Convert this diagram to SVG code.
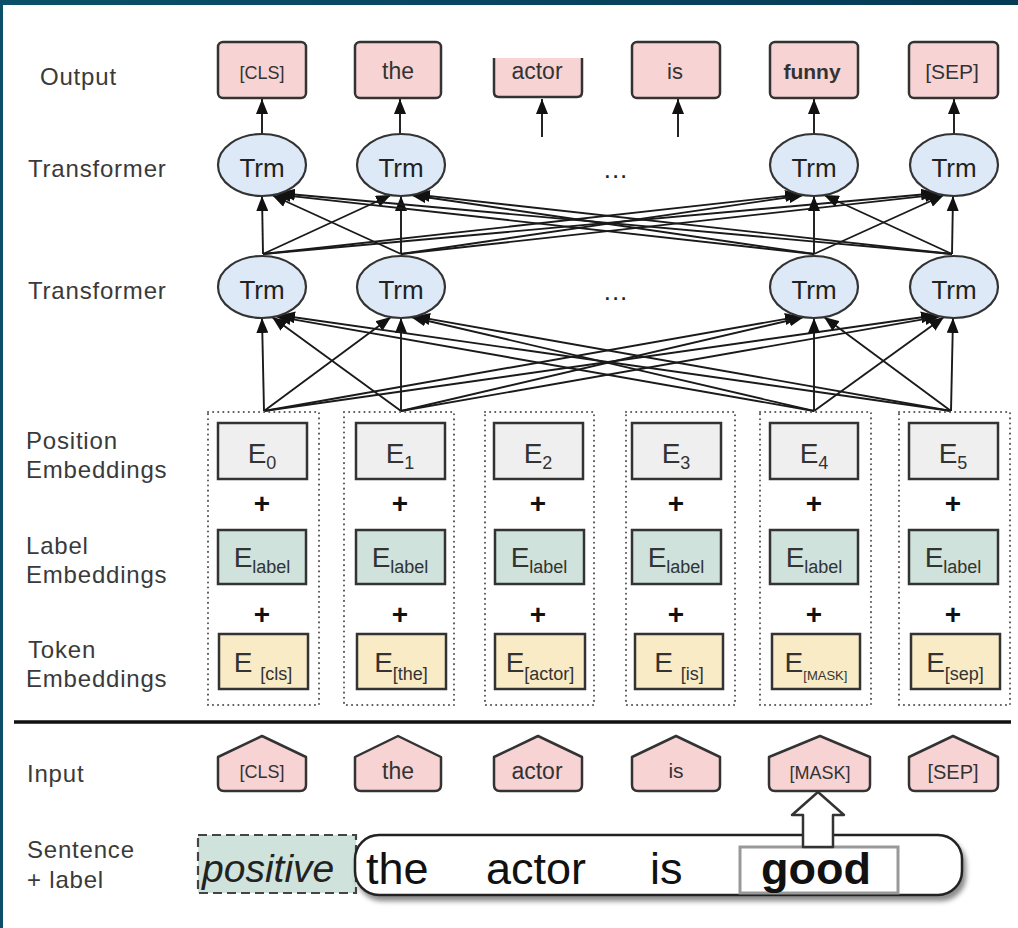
<svg xmlns="http://www.w3.org/2000/svg" width="1018" height="928" viewBox="0 0 1018 928">
<defs>
<linearGradient id="topbar" x1="0" y1="0" x2="1" y2="0">
<stop offset="0" stop-color="#0b5068"/>
<stop offset="1" stop-color="#063a55"/>
</linearGradient>
<marker id="ah" markerUnits="userSpaceOnUse" markerWidth="15" markerHeight="12" refX="15" refY="6" orient="auto">
<path d="M0,0 L15,6 L0,12 z" fill="#111"/>
</marker>
<filter id="shadow" x="-5%" y="-20%" width="110%" height="150%">
<feDropShadow dx="3" dy="5" stdDeviation="2.5" flood-color="#000" flood-opacity="0.45"/>
</filter>
</defs>
<style>
.lbl{font-family:"Liberation Sans",Arial,sans-serif;font-size:24px;letter-spacing:0.8px;fill:#3a3a3a}
.box{stroke:#333;stroke-width:2.5}
.pink{fill:#f7d3d3}
.pos{fill:#efefef}
.lab{fill:#cfe2dc}
.tok{fill:#f9ebc6}
.trm{fill:#dde9f6;stroke:#333;stroke-width:2.2}
.trmt{font-family:"Liberation Sans",Arial,sans-serif;font-size:26px;fill:#222;text-anchor:middle}
.bt{font-family:"Liberation Sans",Arial,sans-serif;fill:#333;text-anchor:middle}
.et{font-family:"Liberation Sans",Arial,sans-serif;font-size:28px;fill:#333;text-anchor:middle}
.plus{font-family:"Liberation Sans",Arial,sans-serif;font-size:28px;font-weight:bold;fill:#111;text-anchor:middle}
.dot{fill:none;stroke:#555;stroke-width:2;stroke-dasharray:0.1 5;stroke-linecap:round}
.cn line{stroke:#1a1a1a;stroke-width:1.9;marker-end:url(#ah)}
.st{font-family:"Liberation Sans",Arial,sans-serif;font-size:45px;fill:#111}
</style>
<rect x="0" y="0" width="1018" height="928" fill="#ffffff"/>
<rect x="0" y="0" width="1018" height="5" fill="url(#topbar)"/>
<rect x="0" y="0" width="3" height="928" fill="#0b5068"/>

<g id="row-labels">
<text class="lbl" x="40" y="85">Output</text>
<text class="lbl" x="28" y="177">Transformer</text>
<text class="lbl" x="28" y="299">Transformer</text>
<text class="lbl" x="26" y="449">Position</text>
<text class="lbl" x="26" y="478">Embeddings</text>
<text class="lbl" x="26" y="554">Label</text>
<text class="lbl" x="26" y="583">Embeddings</text>
<text class="lbl" x="28" y="658">Token</text>
<text class="lbl" x="26" y="687">Embeddings</text>
<text class="lbl" x="27" y="782">Input</text>
<text class="lbl" x="27" y="858">Sentence</text>
<text class="lbl" x="27" y="888">+ label</text>
</g>

<g id="connectors" class="cn">
<line x1="262" y1="134" x2="262" y2="99"/>
<line x1="400" y1="134" x2="400" y2="99"/>
<line x1="542" y1="137" x2="542" y2="99"/>
<line x1="678" y1="137" x2="678" y2="99"/>
<line x1="814" y1="134" x2="814" y2="99"/>
<line x1="954" y1="134" x2="954" y2="99"/>
<!-- upper layer -->
<line x1="263" y1="254" x2="262" y2="196"/>
<line x1="263" y1="254" x2="391" y2="195"/>
<line x1="263" y1="254" x2="800" y2="194.4"/>
<line x1="263" y1="254" x2="936" y2="193.3"/>
<line x1="401" y1="254" x2="272" y2="195"/>
<line x1="401" y1="254" x2="401" y2="196"/>
<line x1="401" y1="254" x2="804" y2="195"/>
<line x1="401" y1="254" x2="940" y2="194.4"/>
<line x1="814" y1="254" x2="276" y2="194.4"/>
<line x1="814" y1="254" x2="411" y2="195"/>
<line x1="814" y1="254" x2="814" y2="196"/>
<line x1="814" y1="254" x2="944" y2="195"/>
<line x1="952" y1="254" x2="280" y2="193.3"/>
<line x1="952" y1="254" x2="415" y2="194.4"/>
<line x1="952" y1="254" x2="824" y2="195"/>
<line x1="952" y1="254" x2="953" y2="196"/>
<!-- lower layer -->
<line x1="264" y1="411" x2="262" y2="318"/>
<line x1="264" y1="411" x2="391" y2="317"/>
<line x1="264" y1="411" x2="800" y2="316.4"/>
<line x1="264" y1="411" x2="936" y2="315.3"/>
<line x1="401" y1="411" x2="272" y2="317"/>
<line x1="401" y1="411" x2="401" y2="318"/>
<line x1="401" y1="411" x2="804" y2="317"/>
<line x1="401" y1="411" x2="940" y2="316.4"/>
<line x1="814" y1="411" x2="276" y2="316.4"/>
<line x1="814" y1="411" x2="411" y2="317"/>
<line x1="814" y1="411" x2="814" y2="318"/>
<line x1="814" y1="411" x2="944" y2="317"/>
<line x1="951" y1="411" x2="280" y2="315.3"/>
<line x1="951" y1="411" x2="415" y2="316.4"/>
<line x1="951" y1="411" x2="824" y2="317"/>
<line x1="951" y1="411" x2="953" y2="318"/>
</g>

<g id="outputs">
<g id="out-cls"><rect class="box pink" x="218" y="42" width="88" height="56" rx="5"/><text class="bt" x="262" y="79" font-size="18">[CLS]</text></g>
<g id="out-the"><rect class="box pink" x="355" y="42" width="86" height="56" rx="5"/><text class="bt" x="398" y="79" font-size="23">the</text></g>
<g id="out-actor"><rect class="pink" x="494" y="58" width="88" height="40"/><path class="box" fill="none" d="M494,58 V92 Q494,97 499,97 H577 Q582,97 582,92 V58"/><text class="bt" x="537" y="79" font-size="23">actor</text></g>
<g id="out-is"><rect class="box pink" x="632" y="42" width="88" height="56" rx="5"/><text class="bt" x="675" y="79" font-size="22">is</text></g>
<g id="out-funny"><rect class="box pink" x="770" y="42" width="88" height="56" rx="5"/><text class="bt" x="812" y="79" font-size="21" font-weight="bold">funny</text></g>
<g id="out-sep"><rect class="box pink" x="909" y="42" width="89" height="56" rx="5"/><text class="bt" x="952" y="79" font-size="21">[SEP]</text></g>
</g>

<g id="trm-upper">
<g id="trm-u1"><ellipse class="trm" cx="262" cy="165" rx="44" ry="31"/><text class="trmt" x="262" y="177">Trm</text></g>
<g id="trm-u2"><ellipse class="trm" cx="401" cy="165" rx="44" ry="31"/><text class="trmt" x="401" y="177">Trm</text></g>
<text id="dots-u" class="trmt" x="616" y="178" font-size="20" letter-spacing="1">...</text>
<g id="trm-u3"><ellipse class="trm" cx="814" cy="165" rx="44" ry="31"/><text class="trmt" x="814" y="177">Trm</text></g>
<g id="trm-u4"><ellipse class="trm" cx="954" cy="165" rx="44" ry="31"/><text class="trmt" x="954" y="177">Trm</text></g>
</g>

<g id="trm-lower">
<g id="trm-l1"><ellipse class="trm" cx="262" cy="287" rx="44" ry="31"/><text class="trmt" x="262" y="299">Trm</text></g>
<g id="trm-l2"><ellipse class="trm" cx="401" cy="287" rx="44" ry="31"/><text class="trmt" x="401" y="299">Trm</text></g>
<text id="dots-l" class="trmt" x="616" y="300" font-size="20" letter-spacing="1">...</text>
<g id="trm-l3"><ellipse class="trm" cx="814" cy="287" rx="44" ry="31"/><text class="trmt" x="814" y="299">Trm</text></g>
<g id="trm-l4"><ellipse class="trm" cx="954" cy="287" rx="44" ry="31"/><text class="trmt" x="954" y="299">Trm</text></g>
</g>

<g id="embeddings">
<g id="emb-0">
<rect class="dot" x="208" y="412" width="111" height="293"/>
<rect class="box pos" x="218" y="423" width="89" height="56"/>
<text class="et" x="262" y="463">E<tspan font-size="18" dy="6">0</tspan></text>
<text class="plus" x="262" y="513">+</text>
<rect class="box lab" x="218" y="530" width="88" height="54"/>
<text class="et" x="262" y="567">E<tspan font-size="18" dy="6">label</tspan></text>
<text class="plus" x="262" y="624">+</text>
<rect class="box tok" x="219" y="634" width="89" height="55"/>
<text class="et" x="263" y="672">E <tspan font-size="18" dy="8">[cls]</tspan></text>
</g>
<g id="emb-1">
<rect class="dot" x="344" y="412" width="110" height="293"/>
<rect class="box pos" x="356" y="423" width="89" height="56"/>
<text class="et" x="400" y="463">E<tspan font-size="18" dy="6">1</tspan></text>
<text class="plus" x="400" y="513">+</text>
<rect class="box lab" x="356" y="530" width="89" height="54"/>
<text class="et" x="400" y="567">E<tspan font-size="18" dy="6">label</tspan></text>
<text class="plus" x="400" y="624">+</text>
<rect class="box tok" x="357" y="634" width="89" height="55"/>
<text class="et" x="401" y="672">E<tspan font-size="18" dy="8">[the]</tspan></text>
</g>
<g id="emb-2">
<rect class="dot" x="485" y="412" width="109" height="293"/>
<rect class="box pos" x="494" y="423" width="89" height="56"/>
<text class="et" x="538" y="463">E<tspan font-size="18" dy="6">2</tspan></text>
<text class="plus" x="538" y="513">+</text>
<rect class="box lab" x="495" y="530" width="89" height="54"/>
<text class="et" x="539" y="567">E<tspan font-size="18" dy="6">label</tspan></text>
<text class="plus" x="538" y="624">+</text>
<rect class="box tok" x="495" y="634" width="90" height="55"/>
<text class="et" x="540" y="672">E<tspan font-size="18" dy="8">[actor]</tspan></text>
</g>
<g id="emb-3">
<rect class="dot" x="626" y="412" width="109" height="293"/>
<rect class="box pos" x="632" y="423" width="89" height="56"/>
<text class="et" x="676" y="463">E<tspan font-size="18" dy="6">3</tspan></text>
<text class="plus" x="676" y="513">+</text>
<rect class="box lab" x="632" y="530" width="89" height="54"/>
<text class="et" x="676" y="567">E<tspan font-size="18" dy="6">label</tspan></text>
<text class="plus" x="676" y="624">+</text>
<rect class="box tok" x="635" y="634" width="88" height="55"/>
<text class="et" x="679" y="672">E <tspan font-size="18" dy="8">[is]</tspan></text>
</g>
<g id="emb-4">
<rect class="dot" x="760" y="412" width="111" height="293"/>
<rect class="box pos" x="770" y="423" width="88" height="56"/>
<text class="et" x="814" y="463">E<tspan font-size="18" dy="6">4</tspan></text>
<text class="plus" x="814" y="513">+</text>
<rect class="box lab" x="770" y="530" width="88" height="54"/>
<text class="et" x="814" y="567">E<tspan font-size="18" dy="6">label</tspan></text>
<text class="plus" x="814" y="624">+</text>
<rect class="box tok" x="772" y="634" width="88" height="55"/>
<text class="et" x="816" y="672">E<tspan font-size="13" dy="8">[MASK]</tspan></text>
</g>
<g id="emb-5">
<rect class="dot" x="899" y="412" width="111" height="293"/>
<rect class="box pos" x="909" y="423" width="89" height="56"/>
<text class="et" x="953" y="463">E<tspan font-size="18" dy="6">5</tspan></text>
<text class="plus" x="953" y="513">+</text>
<rect class="box lab" x="909" y="530" width="89" height="54"/>
<text class="et" x="953" y="567">E<tspan font-size="18" dy="6">label</tspan></text>
<text class="plus" x="953" y="624">+</text>
<rect class="box tok" x="911" y="634" width="89" height="55"/>
<text class="et" x="955" y="672">E<tspan font-size="18" dy="8">[sep]</tspan></text>
</g>
</g>

<line id="divider" x1="14" y1="722" x2="1011" y2="722" stroke="#111" stroke-width="3.5"/>

<g id="inputs">
<g id="in-cls"><path class="box pink" stroke-linejoin="round" d="M218,757 L262,736 L306,757 V785 Q306,791 300,791 H224 Q218,791 218,785 Z"/><text class="bt" x="262" y="778" font-size="18">[CLS]</text></g>
<g id="in-the"><path class="box pink" stroke-linejoin="round" d="M355,757 L398,736 L441,757 V785 Q441,791 435,791 H361 Q355,791 355,785 Z"/><text class="bt" x="398" y="779" font-size="23">the</text></g>
<g id="in-actor"><path class="box pink" stroke-linejoin="round" d="M494,757 L538,736 L582,757 V785 Q582,791 576,791 H500 Q494,791 494,785 Z"/><text class="bt" x="537" y="779" font-size="23">actor</text></g>
<g id="in-is"><path class="box pink" stroke-linejoin="round" d="M632,757 L676,736 L720,757 V785 Q720,791 714,791 H638 Q632,791 632,785 Z"/><text class="bt" x="676" y="778" font-size="21">is</text></g>
<g id="in-mask"><path class="box pink" stroke-linejoin="round" d="M769,757 L820,736 L870,757 V785 Q870,791 864,791 H775 Q769,791 769,785 Z"/><text class="bt" x="820" y="779" font-size="18">[MASK]</text></g>
<g id="in-sep"><path class="box pink" stroke-linejoin="round" d="M909,757 L953,736 L998,757 V785 Q998,791 992,791 H915 Q909,791 909,785 Z"/><text class="bt" x="953" y="779" font-size="20">[SEP]</text></g>
</g>

<g id="sentence">
<g id="label-positive">
<rect x="198" y="835" width="158" height="58" fill="#cfe2dc" stroke="#444" stroke-width="2.2" stroke-dasharray="9 5"/>
<text x="202" y="882" font-family="'Liberation Sans',Arial,sans-serif" font-size="39" font-style="italic" fill="#222">positive</text>
</g>
<g id="sentence-box">
<rect x="355" y="835" width="607" height="60" rx="24" fill="#ffffff" stroke="#222" stroke-width="2.5" filter="url(#shadow)"/>
<text class="st" x="366" y="884">the</text>
<text class="st" x="486" y="884">actor</text>
<text class="st" x="650" y="884">is</text>
</g>
<g id="good-box">
<rect x="740" y="847" width="158" height="46" fill="#ffffff" stroke="#999" stroke-width="3"/>
<text class="st" x="816" y="884" text-anchor="middle" font-weight="bold">good</text>
</g>
<polygon id="mask-arrow" points="803,847 803,815 792,815 818,792 844,815 833,815 833,847" fill="#ffffff" stroke="#333" stroke-width="2.5" stroke-linejoin="round"/>
</g>
</svg>
